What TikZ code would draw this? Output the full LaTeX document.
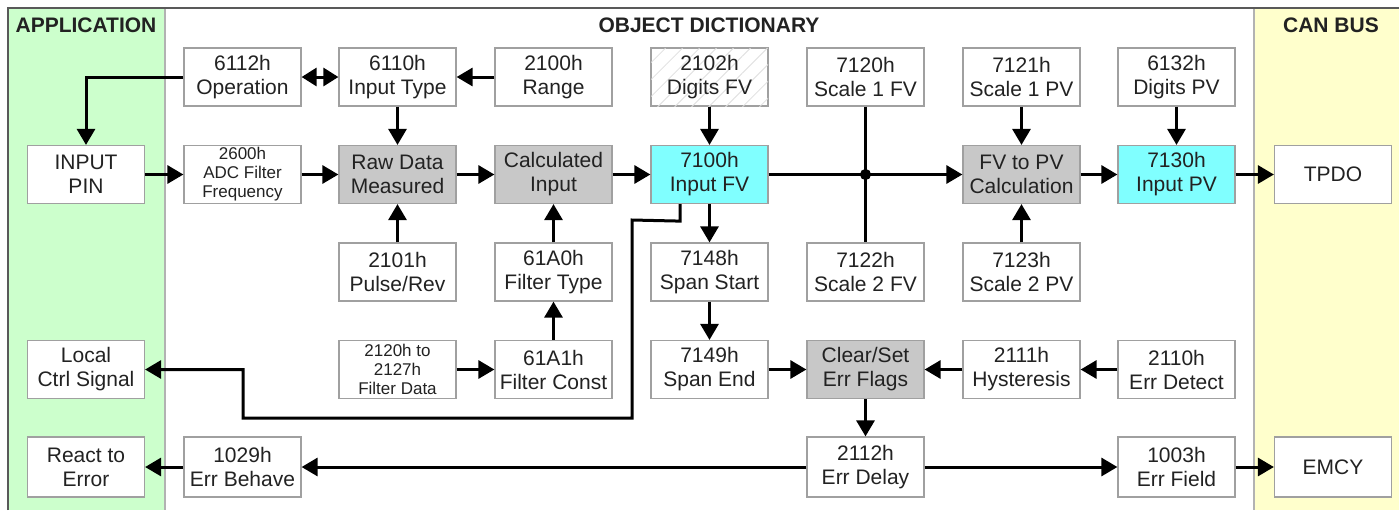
\documentclass[tikz,border=0pt]{standalone}
\usepackage{fontspec}
\setmainfont{Liberation Sans}
\usetikzlibrary{arrows.meta,calc,patterns.meta}
\definecolor{txt}{HTML}{222222}
\definecolor{bord}{HTML}{A0A0A0}
\definecolor{gfill}{HTML}{C8C8C8}
\definecolor{cfill}{HTML}{80FFFF}
\definecolor{appbg}{HTML}{CCFFCC}
\definecolor{canbg}{HTML}{FFFFCC}
\begin{document}
\begin{tikzpicture}[x=0.5pt,y=-0.5pt,
  box/.style={draw=bord,line width=0.6pt,fill=white,minimum width=58.5pt,minimum height=29pt,inner sep=0pt,align=center,text=txt,font=\fontsize{10.5}{12}\selectfont},
  smallbox/.style={box,font=\fontsize{8.5}{9.5}\selectfont},
  gbox/.style={box,fill=gfill},
  cbox/.style={box,fill=cfill},
  hatchbox/.style={box,postaction={pattern={Lines[angle=45,distance=6pt,line width=0.4pt]},pattern color=gray!25}},
  conn/.style={line width=1.5pt},
  arr/.style={conn,-{Triangle[length=8pt,width=9pt]}},
  darr/.style={conn,{Triangle[length=7.5pt,width=9pt]}-{Triangle[length=7.5pt,width=9pt]}},
  hdr/.style={font=\bfseries\fontsize{10.5}{12}\selectfont,text=txt,inner sep=0pt}
]
\useasboundingbox (0,0) rectangle (1399,510);
\fill[appbg] (8,8) rectangle (165,510);
\fill[canbg] (1254,8) rectangle (1399,510);
\draw[gray!60,line width=0.6pt] (165,8) -- (165,510) (1254,8) -- (1254,510);
\draw[gray!70!black,line width=0.8pt] (8,510) -- (8,8) -- (1399,8);

\node[hdr] (happ) at (86,25.5) {APPLICATION};
\node[hdr] (hod) at (709,25.5) {OBJECT DICTIONARY};
\node[hdr] (hcan) at (1331,25.5) {CAN BUS};

% row 1
\node[box] (op) at (242.5,77) {6112h\\Operation};
\node[box] (it) at (397.5,77) {6110h\\Input Type};
\node[box] (rng) at (553.5,77) {2100h\\Range};
\node[hatchbox] (dfv) at (709.5,77) {2102h\\Digits FV};
\node[box] (s1fv) at (865.5,77) {7120h\\Scale 1 FV};
\node[box] (s1pv) at (1021.5,77) {7121h\\Scale 1 PV};
\node[box] (dpv) at (1176.5,77) {6132h\\Digits PV};
% row 2
\node[box] (pin) at (86,174.5) {INPUT\\PIN};
\node[smallbox] (adc) at (242.5,174.5) {2600h\\ADC Filter\\Frequency};
\node[gbox] (raw) at (397.5,174.5) {Raw Data\\Measured};
\node[gbox] (cin) at (553.5,174.5) {Calculated\\Input};
\node[cbox] (fv) at (709.5,174.5) {7100h\\Input FV};
\node[gbox] (fvpv) at (1021.5,174.5) {FV to PV\\Calculation};
\node[cbox] (pv) at (1176.5,174.5) {7130h\\Input PV};
\node[box] (tpdo) at (1333,174.5) {TPDO};
% row 3
\node[box] (pr) at (397.5,272) {2101h\\Pulse/Rev};
\node[box] (ft) at (553.5,272) {61A0h\\Filter Type};
\node[box] (ss) at (709.5,272) {7148h\\Span Start};
\node[box] (s2fv) at (865.5,272) {7122h\\Scale 2 FV};
\node[box] (s2pv) at (1021.5,272) {7123h\\Scale 2 PV};
% row 4
\node[box] (loc) at (86,369.5) {Local\\Ctrl Signal};
\node[smallbox] (fd) at (397.5,369.5) {2120h to\\2127h\\Filter Data};
\node[box] (fc) at (553.5,369.5) {61A1h\\Filter Const};
\node[box] (se) at (709.5,369.5) {7149h\\Span End};
\node[gbox] (csf) at (865.5,369.5) {Clear/Set\\Err Flags};
\node[box] (hys) at (1021.5,369.5) {2111h\\Hysteresis};
\node[box] (edt) at (1176.5,369.5) {2110h\\Err Detect};
% row 5
\node[box,minimum height=30pt] (react) at (86,467) {React to\\Error};
\node[box,minimum height=30pt] (eb) at (242.5,467) {1029h\\Err Behave};
\node[box,minimum height=30pt] (edl) at (865.5,467) {2112h\\Err Delay};
\node[box,minimum height=30pt] (ef) at (1176.5,467) {1003h\\Err Field};
\node[box,minimum height=30pt] (emcy) at (1333,467) {EMCY};

% connectors
\draw[arr] (op.west) -| (pin.north);
\draw[darr] (op.east) -- (it.west);
\draw[arr] (rng.west) -- (it.east);
\draw[arr] (it.south) -- (raw.north);
\draw[arr] (pin.east) -- (adc.west);
\draw[arr] (adc.east) -- (raw.west);
\draw[arr] (raw.east) -- (cin.west);
\draw[arr] (cin.east) -- (fv.west);
\draw[arr] (pr.north) -- (raw.south);
\draw[arr] (ft.north) -- (cin.south);
\draw[arr] (fc.north) -- (ft.south);
\draw[arr] (fd.east) -- (fc.west);
\draw[arr] (dfv.south) -- (fv.north);
\draw[conn] (s1fv.south) -- (s2fv.north);
\draw[arr] (fv.east) -- (fvpv.west);
\coordinate (jn) at (s1fv.south |- fv.east);
\fill (jn) circle[radius=2.8pt];
\draw[arr] (s1pv.south) -- (fvpv.north);
\draw[arr] (s2pv.north) -- (fvpv.south);
\draw[arr] (fvpv.east) -- (pv.west);
\draw[arr] (dpv.south) -- (pv.north);
\draw[arr] (pv.east) -- (tpdo.west);
\draw[arr] (fv.south) -- (ss.north);
\draw[arr] (ss.south) -- (se.north);
\draw[arr] (se.east) -- (csf.west);
\draw[arr] (edt.west) -- (hys.east);
\draw[arr] (hys.west) -- (csf.east);
\draw[arr] (csf.south) -- (edl.north);
\draw[arr] (edl.west) -- (eb.east);
\draw[arr] (eb.west) -- (react.east);
\draw[arr] (edl.east) -- (ef.west);
\draw[arr] (ef.east) -- (emcy.west);
\draw[arr] ($(fv.south)+(-29.5,0)$) -- ++(0,17) -- (632,220) -- (632,418) -- (243,418) |- (loc.east);
\end{tikzpicture}
\end{document}
